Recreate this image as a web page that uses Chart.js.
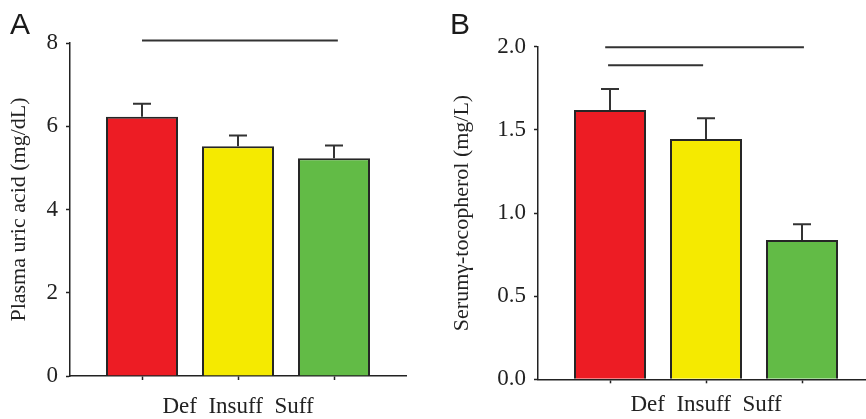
<!DOCTYPE html>
<html><head><meta charset="utf-8">
<script src="https://cdn.jsdelivr.net/npm/chart.js@4.4.0/dist/chart.umd.min.js"></script>
<style>
html,body{margin:0;padding:0;background:#fff;width:866px;height:419px;overflow:hidden;position:relative}
canvas{position:absolute;top:0}
#ca{left:0}
#cb{left:433px}
.pl{position:absolute;font-family:"Liberation Sans",Arial,sans-serif;font-size:30px;line-height:30px;color:#1a1a1a}
</style></head><body>
<canvas id="ca" width="433" height="419"></canvas>
<canvas id="cb" width="445" height="419"></canvas>
<div class="pl" style="left:10px;top:9px">A</div>
<div class="pl" style="left:450px;top:9px">B</div>
<script>
// ---- data ----
const categories = ['Def', 'Insuff', 'Suff'];
const barColors = ['#ED1C24', '#F5EA00', '#62BB46'];

const uricValues = [6.23, 5.52, 5.23];
const uricErrors = [0.31, 0.26, 0.31];
const uricTicks = [0, 2, 4, 6, 8];
const uricSig = [[0, 2.04, 8.06]];          // [fromCategory, toCategory, level]

const tocoValues = [1.62, 1.445, 0.838];
const tocoErrors = [0.125, 0.125, 0.095];
const tocoTicks = [0, 0.5, 1.0, 1.5, 2.0];
const tocoSig = [[-0.05, 2.02, 1.996], [-0.02, 0.97, 1.888]];

Chart.defaults.font.family = '"Liberation Serif", "Times New Roman", serif';
Chart.defaults.font.size = 22;
Chart.defaults.color = '#222';

function errSigPlugin(values, errors, sig) {
  return {
    id: 'errsig',
    afterDatasetsDraw(chart) {
      const ctx = chart.ctx, x = chart.scales.x, y = chart.scales.y;
      ctx.save();
      ctx.strokeStyle = '#333';
      ctx.lineWidth = 2;
      values.forEach((v, i) => {
        const px = x.getPixelForValue(i);
        const y0 = y.getPixelForValue(v);
        const y1 = y.getPixelForValue(v + errors[i]);
        ctx.beginPath();
        ctx.moveTo(px, y0); ctx.lineTo(px, y1);
        ctx.moveTo(px - 9, y1); ctx.lineTo(px + 9, y1);
        ctx.stroke();
      });
      sig.forEach(([a, b, lv]) => {
        const py = y.getPixelForValue(lv);
        ctx.beginPath();
        ctx.moveTo(x.getPixelForValue(a), py);
        ctx.lineTo(x.getPixelForValue(b), py);
        ctx.stroke();
      });
      ctx.restore();
    }
  };
}

function makeChart(id, values, errors, ticks, sig, yTitle, fmt, geo) {
  new Chart(document.getElementById(id), {
    type: 'bar',
    data: {
      datasets: [{
        data: values.map((v, i) => ({ x: i, y: v })),
        backgroundColor: barColors,
        borderColor: '#262626',
        borderWidth: 2,
        categoryPercentage: 1,
        barPercentage: 0.75
      }]
    },
    options: {
      responsive: false,
      animation: false,
      events: [],
      layout: { padding: geo.padding },
      plugins: { legend: { display: false }, tooltip: { enabled: false } },
      scales: {
        x: {
          type: 'linear',
          offset: false,
          min: -0.75, max: 2.75,
          afterBuildTicks: s => { s.ticks = categories.map((c, i) => ({ value: i })); },
          ticks: { display: false },
          grid: { offset: false, drawOnChartArea: false, drawTicks: true, tickLength: 4, tickColor: '#222', tickWidth: 1.5 },
          border: { display: true, color: '#222', width: 1.5 },
          title: { display: true, text: categories.join('  '), color: '#222',
                   font: { size: 23, lineHeight: 1 }, padding: { top: 0, bottom: geo.xTitlePad } },
          afterFit: s => { s.height = geo.xHeight; }
        },
        y: {
          type: 'linear',
          min: ticks[0], max: ticks[ticks.length - 1],
          afterBuildTicks: s => { s.ticks = ticks.map(v => ({ value: v })); },
          ticks: { padding: 8, color: '#222', font: { size: 23 }, callback: v => fmt(v) },
          grid: { drawOnChartArea: false, drawTicks: true, tickLength: 4, tickColor: '#222', tickWidth: 1.5 },
          border: { display: true, color: '#222', width: 1.5 },
          title: { display: true, text: yTitle, color: '#222',
                   font: { size: 22 }, padding: { top: geo.yTitlePad, bottom: 0 } },
          afterFit: s => { s.width = geo.yWidth; }
        }
      }
    },
    plugins: [errSigPlugin(values, errors, sig)]
  });
}

makeChart('ca', uricValues, uricErrors, uricTicks, uricSig,
  'Plasma uric acid (mg/dL)', v => String(v),
  { padding: { left: 0, right: 27, top: 43, bottom: 0 }, yWidth: 70, xHeight: 43, xTitlePad: 1, yTitlePad: 6 });

makeChart('cb', tocoValues, tocoErrors, tocoTicks, tocoSig,
  'Serumγ-tocopherol (mg/L)', v => v.toFixed(1),
  { padding: { left: 0, right: 4, top: 46.7, bottom: 0 }, yWidth: 105, xHeight: 39.7, xTitlePad: 3, yTitlePad: 16 });
</script>
</body></html>
